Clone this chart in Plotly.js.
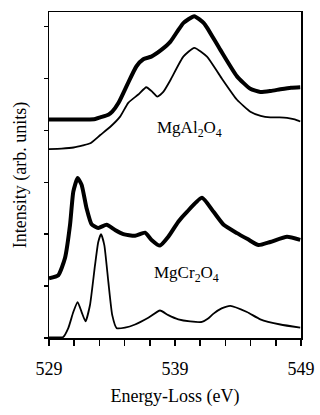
<!DOCTYPE html>
<html>
<head>
<meta charset="utf-8">
<script src="https://cdn.plot.ly/plotly-3.0.1.min.js"></script>
<style>
html,body{margin:0;padding:0;background:#fff;}
#chart{width:320px;height:415px;}
</style>
</head>
<body>
<div id="chart"></div>
<script>
// MgAl2O4 (thick, upper)
var alThickX = [529, 530.69, 532.0, 532.67, 533.07, 533.71, 534.02, 534.52, 535.29, 535.93, 536.48, 537.12, 537.91, 538.64, 539.28, 539.68, 540.53, 541.27, 541.54, 542.60, 543.92, 544.98, 545.77, 546.6, 547.36, 548.2, 548.94];
var alThickY = [4.21, 4.21, 4.21, 4.22, 4.25, 4.30, 4.36, 4.53, 4.92, 5.23, 5.37, 5.42, 5.55, 5.71, 5.94, 6.07, 6.20, 6.07, 5.98, 5.55, 5.04, 4.80, 4.74, 4.76, 4.79, 4.82, 4.83];
// MgAl2O4 (thin, lower)
var alThinX = [529, 530.0, 530.95, 531.7, 532.28, 533.07, 533.87, 534.66, 535.29, 536.09, 536.72, 537.12, 537.60, 538.07, 538.64, 539.66, 540.53, 541.54, 542.60, 543.92, 544.98, 545.8, 546.57, 547.3, 547.89, 548.5, 548.94];
var alThinY = [3.64, 3.65, 3.67, 3.71, 3.75, 3.91, 4.07, 4.27, 4.53, 4.69, 4.83, 4.76, 4.65, 4.74, 4.97, 5.42, 5.59, 5.42, 5.04, 4.59, 4.36, 4.28, 4.25, 4.25, 4.24, 4.21, 4.17];
// MgCr2O4 (thick, upper)
var crThickX = [529, 529.74, 530.27, 530.67, 530.93, 531.27, 531.59, 531.98, 532.38, 532.91, 533.57, 534.24, 534.90, 535.83, 536.62, 537.14, 537.81, 538.47, 539.26, 539.95, 541.14, 542.06, 542.86, 543.92, 544.8, 545.63, 546.56, 547.89, 548.94];
var crThickY = [1.15, 1.21, 1.54, 2.18, 2.82, 3.08, 2.95, 2.50, 2.19, 2.12, 2.18, 2.08, 2.00, 1.97, 2.03, 1.89, 1.78, 1.95, 2.24, 2.43, 2.70, 2.43, 2.18, 2.02, 1.90, 1.79, 1.85, 1.95, 1.89];
// MgCr2O4 (thin, lower)
var crThinX = [529, 529.6, 530.13, 530.53, 530.93, 531.27, 531.59, 531.90, 532.25, 532.65, 532.91, 533.13, 533.39, 533.71, 534.02, 534.37, 535.03, 535.83, 536.88, 537.81, 538.47, 539.26, 540.2, 541.14, 541.6, 542.06, 542.7, 543.39, 544.71, 545.77, 547.36, 548.94];
var crThinY = [0.01, 0.01, 0.02, 0.19, 0.50, 0.69, 0.50, 0.32, 0.63, 1.40, 1.85, 2.00, 1.79, 1.08, 0.44, 0.19, 0.20, 0.26, 0.39, 0.53, 0.44, 0.36, 0.32, 0.31, 0.37, 0.47, 0.57, 0.62, 0.50, 0.36, 0.26, 0.20];

var xTickVals = [529, 539, 549];
var xTickText = ['529', '539', '549'];
var xTickStep = 2;
var yTickVals = [0, 1, 2, 3, 4, 5, 6];
var labels = ['MgAl<sub>2</sub>O<sub>4</sub>', 'MgCr<sub>2</sub>O<sub>4</sub>'];

var FONT = 'Liberation Serif';

function tr(x, y, w, xa) {
  return {x: x, y: y, type: 'scatter', mode: 'lines', xaxis: xa || 'x',
    line: {color: '#000', width: w, shape: 'spline', smoothing: 0.5},
    hoverinfo: 'skip', showlegend: false};
}

var data = [
  tr(alThickX, alThickY, 4),
  tr(alThinX, alThinY, 1.8),
  tr(crThickX, crThickY, 4),
  tr(crThinX, crThinY, 1.8, 'x2')
];

var layout = {
  width: 320, height: 415,
  margin: {l: 49, r: 19, t: 12, b: 77},
  paper_bgcolor: '#fff', plot_bgcolor: '#fff',
  font: {family: FONT, size: 18, color: '#000'},
  showlegend: false,
  xaxis: {
    range: [529, 549], showgrid: false, zeroline: false,
    showline: true, linecolor: '#000', linewidth: 1.5, mirror: true,
    ticks: 'outside', ticklen: 6, tickwidth: 1.5, tickcolor: '#000',
    tickmode: 'linear', tick0: 529, dtick: xTickStep, showticklabels: false
  },
  xaxis2: {
    overlaying: 'x', anchor: 'y', side: 'bottom',
    range: [529, 549], showgrid: false, zeroline: false, showline: false,
    ticks: 'outside', ticklen: 6, tickwidth: 1.5, tickcolor: '#000',
    tickmode: 'array', tickvals: xTickVals, ticktext: xTickText,
    ticklabelstandoff: 8,
    tickfont: {family: FONT, size: 18, color: '#000'},
    title: {text: 'Energy-Loss (eV)', font: {family: FONT, size: 18, color: '#000'}, standoff: 11}
  },
  yaxis: {
    range: [0, 6.28], showgrid: false, zeroline: false,
    showline: true, linecolor: '#000', linewidth: 1.5, mirror: true,
    ticks: 'outside', ticklen: 4, tickwidth: 1.5, tickcolor: '#000',
    tickmode: 'array', tickvals: yTickVals, showticklabels: false,
    title: {text: 'Intensity (arb. units)', font: {family: FONT, size: 18, color: '#000'}, standoff: 12}
  },
  annotations: [
    {x: 540.13, y: 4.03, xref: 'x', yref: 'y', text: labels[0], showarrow: false,
     font: {family: FONT, size: 17, color: '#000'}, xanchor: 'center', yanchor: 'middle'},
    {x: 539.94, y: 1.23, xref: 'x', yref: 'y', text: labels[1], showarrow: false,
     font: {family: FONT, size: 17, color: '#000'}, xanchor: 'center', yanchor: 'middle'}
  ]
};

Plotly.newPlot('chart', data, layout, {displayModeBar: false, staticPlot: true});
</script>
</body>
</html>
